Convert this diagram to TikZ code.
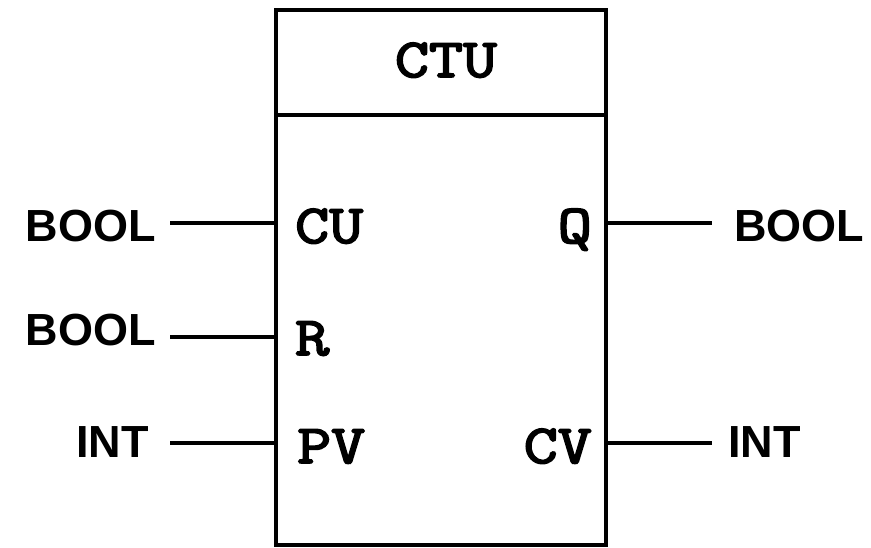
\documentclass[tikz,border=0pt]{standalone}
\usepackage{fontspec}
\setmainfont{Liberation Sans}
\newfontfamily\pinfont{Latin Modern Mono}[FakeBold=3]
\begin{document}
\begin{tikzpicture}[x=1pt,y=-1pt,
  typelbl/.style={inner sep=0pt, font=\fontsize{45}{45}\selectfont\bfseries},
  pinlbl/.style={inner sep=0pt, font=\fontsize{55}{55}\pinfont},
  wire/.style={line width=3.2pt},
  blockbox/.style={draw, line width=3.8pt, minimum width=330pt, minimum height=535pt, inner sep=0pt}]
\useasboundingbox (0,0) rectangle (871,547);
\node[blockbox] (blk) at (441,277.5) {};
\coordinate (divl) at (276,115);
\coordinate (divr) at (606,115);
\draw[line width=3.8pt] (divl) -- (divr);
\node[pinlbl, anchor=base] (title) at (446,77) {\scalebox{1.2}[1]{CTU}};
% inner pins
\node[pinlbl, anchor=base west] (cu) at (295,243) {\scalebox{1.2}[1]{CU}};
\node[pinlbl, anchor=base west] (r) at (295,355) {\scalebox{1.2}[1]{R}};
\node[pinlbl, anchor=base west] (pv) at (297,463) {\scalebox{1.2}[1]{PV}};
\node[pinlbl, anchor=base east] (q) at (592,243) {\scalebox{1.2}[1]{Q}};
\node[pinlbl, anchor=base east] (cv) at (592,463) {\scalebox{1.2}[1]{CV}};
% type labels
\node[typelbl, anchor=base east] (tcu) at (156,241) {BOOL};
\node[typelbl, anchor=base east] (tr) at (156,345) {BOOL};
\node[typelbl, anchor=base east] (tpv) at (149,457) {INT};
\node[typelbl, anchor=base west] (tq) at (734,241) {BOOL};
\node[typelbl, anchor=base west] (tcv) at (728,457) {INT};
% wire ends
\coordinate (wcu) at (170,223);
\coordinate (wr) at (170,337);
\coordinate (wpv) at (170,443);
\coordinate (wq) at (712,223);
\coordinate (wcv) at (712,443);
\draw[wire] (wcu) -- (blk.west |- wcu);
\draw[wire] (wr) -- (blk.west |- wr);
\draw[wire] (wpv) -- (blk.west |- wpv);
\draw[wire] (blk.east |- wq) -- (wq);
\draw[wire] (blk.east |- wcv) -- (wcv);
\end{tikzpicture}
\end{document}
